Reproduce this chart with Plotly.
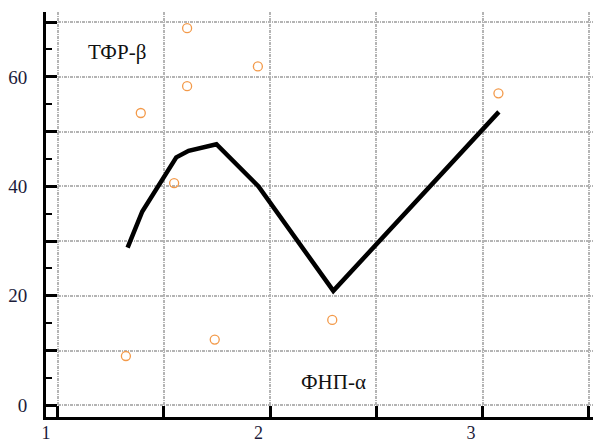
import plotly.graph_objects as go

# Curve (black line)
line_x = [1.384, 1.453, 1.613, 1.671, 1.802, 2.000, 2.352, 3.131]
line_y = [28.8, 35.4, 45.3, 46.5, 47.7, 40.0, 20.9, 53.6]

# Measured points (open circles)
pts_x = [1.664, 1.997, 1.664, 1.446, 1.603, 3.129, 1.376, 1.794, 2.347]
pts_y = [68.9, 61.9, 58.3, 53.4, 40.6, 57.0, 9.0, 12.0, 15.6]

x_tick_labels = ["1", "2", "3"]
x_tick_values = [1, 2, 3]
y_tick_values = [0, 20, 40, 60]
y_tick_labels = ["0", "20", "40", "60"]

series_labels = ["ТФР-β", "ФНП-α"]

serif = "Liberation Serif"
label_color = "#1c1c3a"
grid_color = "#b4b4b4"
grid_dash = "3px,1px,1px,1px"

fig = go.Figure()

fig.add_trace(go.Scatter(
    x=line_x, y=line_y, mode="lines",
    line=dict(color="black", width=4.5),
    showlegend=False, hoverinfo="skip",
))
fig.add_trace(go.Scatter(
    x=pts_x, y=pts_y, mode="markers",
    marker=dict(symbol="circle-open", size=9, color="#f39a4a",
                line=dict(width=1.3, color="#f39a4a")),
    showlegend=False, hoverinfo="skip",
))
# empty trace on the label axis so it is rendered
fig.add_trace(go.Scatter(x=[None], y=[None], xaxis="x2", showlegend=False))

x_range = [1.0, 3.574]
grid_x = [1.055 + 0.5 * k for k in range(6)]
y_major = list(range(0, 80, 10))

fig.update_layout(
    width=593, height=445,
    margin=dict(l=46, r=0, t=12, b=28),
    paper_bgcolor="white", plot_bgcolor="white",
    font=dict(family=serif),
    xaxis=dict(
        range=x_range, automargin=False,
        tickmode="array", tickvals=grid_x, ticktext=[""] * len(grid_x),
        ticks="inside", ticklen=11, tickwidth=3, tickcolor="black",
        showgrid=True, gridcolor=grid_color, gridwidth=1.5, griddash=grid_dash,
        showline=True, linecolor="black", linewidth=3,
        zeroline=False,
    ),
    xaxis2=dict(
        range=x_range, overlaying="x", anchor="y", side="bottom", automargin=False,
        tickmode="array", tickvals=x_tick_values, ticktext=x_tick_labels,
        ticks="", showgrid=False, showline=False, zeroline=False,
        tickfont=dict(family=serif, size=18, color=label_color),
        ticklabelstandoff=3,
    ),
    yaxis=dict(
        range=[-2.14, 71.85], automargin=False,
        tickmode="array", tickvals=y_major,
        ticktext=[y_tick_labels[y_tick_values.index(v)] if v in y_tick_values else "" for v in y_major],
        ticks="inside", ticklen=11, tickwidth=3, tickcolor="black",
        minor=dict(tickmode="linear", tick0=5, dtick=10, ticks="inside",
                   ticklen=6, tickwidth=2, tickcolor="black", showgrid=False),
        showgrid=True, gridcolor=grid_color, gridwidth=1.5, griddash=grid_dash,
        showline=True, linecolor="black", linewidth=3,
        zeroline=False,
        tickfont=dict(family=serif, size=19, color=label_color),
        ticklabelstandoff=12,
    ),
    annotations=[
        dict(x=1.336, y=64.6, xref="x", yref="y", text=series_labels[0],
             showarrow=False, font=dict(family=serif, size=21, color="#111111")),
        dict(x=2.353, y=4.3, xref="x", yref="y", text=series_labels[1],
             showarrow=False, font=dict(family=serif, size=21, color="#111111")),
    ],
)

fig.write_html("out.html")
